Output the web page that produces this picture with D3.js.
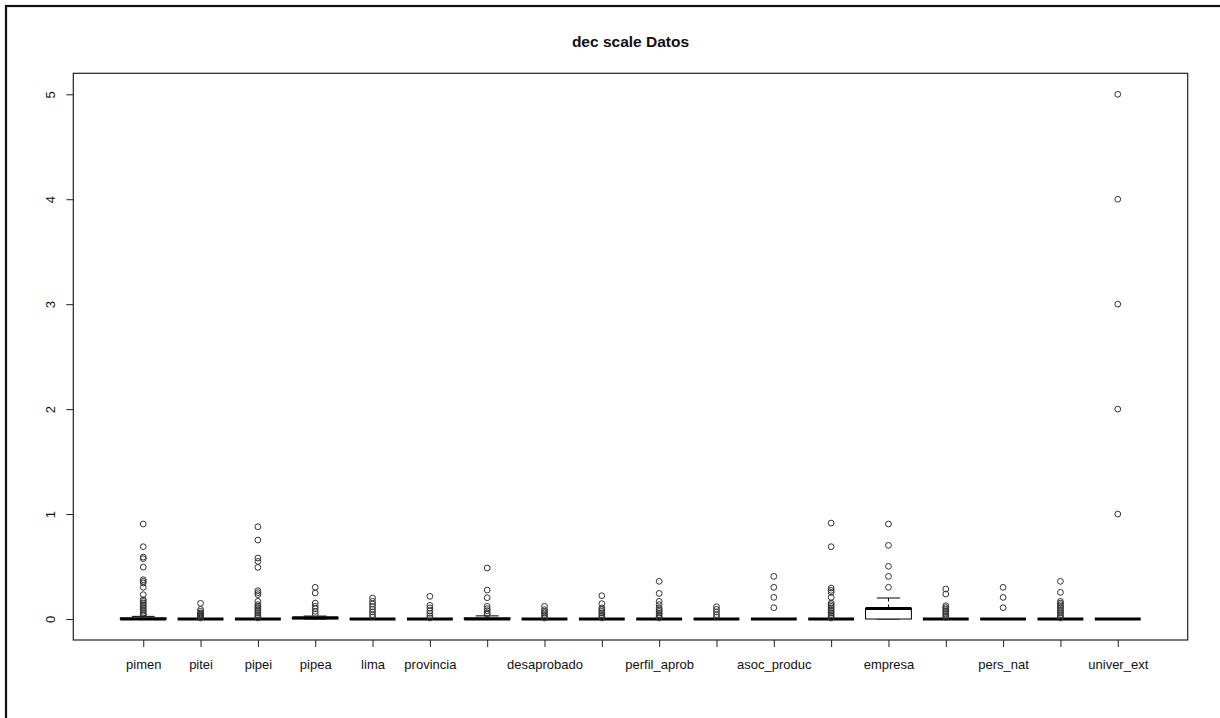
<!DOCTYPE html>
<html>
<head>
<meta charset="utf-8">
<script src="https://cdn.jsdelivr.net/npm/d3@7"></script>
<style>
  body { margin: 0; background: #fff; }
  svg { display: block; font-family: "Liberation Sans", Arial, sans-serif; }
</style>
</head>
<body>
<div id="chart"></div>
<script>
// Variable names (empty where R dropped the label because it would overlap)
const categories = ["pimen", "pitei", "pipei", "pipea", "lima", "provincia", "", "desaprobado", "",
  "perfil_aprob", "", "asoc_produc", "", "empresa", "", "pers_nat", "", "univer_ext"];

// Box statistics, one value per variable
const whiskerLow  = [0, 0, 0, 0,     0, 0, 0,    0, 0, 0, 0, 0, 0, 0,   0, 0, 0, 0];
const lowerQuart  = [0, 0, 0, 0.003, 0, 0, 0,    0, 0, 0, 0, 0, 0, 0,   0, 0, 0, 0];
const medians     = [0, 0, 0, 0.01,  0, 0, 0,    0, 0, 0, 0, 0, 0, 0.1, 0, 0, 0, 0];
const upperQuart  = [0.01, 0, 0, 0.012, 0, 0, 0.01, 0, 0, 0, 0, 0, 0, 0.1, 0, 0, 0, 0];
const whiskerHigh = [0.025, 0, 0, 0.028, 0, 0, 0.03, 0, 0, 0, 0, 0, 0, 0.2, 0, 0, 0, 0];

// Outliers per variable
const outliers = [
  [0.905, 0.689, 0.590, 0.575, 0.495, 0.375, 0.359, 0.343, 0.302, 0.232, 0.184, 0.168, 0.152, 0.137, 0.121, 0.105, 0.089, 0.073, 0.057, 0.041, 0.035],
  [0.149, 0.092, 0.073, 0.057, 0.048, 0.041, 0.033, 0.025, 0.018, 0.01],
  [0.879, 0.752, 0.581, 0.549, 0.492, 0.270, 0.251, 0.232, 0.168, 0.137, 0.121, 0.105, 0.089, 0.073, 0.057, 0.041, 0.025, 0.01],
  [0.302, 0.248, 0.152, 0.121, 0.098, 0.073, 0.048],
  [0.2, 0.168, 0.143, 0.117, 0.092, 0.067, 0.041, 0.02],
  [0.216, 0.130, 0.105, 0.079, 0.054, 0.029, 0.01],
  [0.486, 0.276, 0.203, 0.121, 0.098, 0.079, 0.057, 0.045],
  [0.121, 0.089, 0.073, 0.057, 0.041, 0.025, 0.01],
  [0.222, 0.146, 0.105, 0.089, 0.073, 0.057, 0.041, 0.025, 0.01],
  [0.359, 0.244, 0.168, 0.137, 0.105, 0.089, 0.073, 0.057, 0.041, 0.025, 0.01],
  [0.117, 0.092, 0.067, 0.041, 0.019],
  [0.406, 0.302, 0.206, 0.108],
  [0.914, 0.689, 0.295, 0.273, 0.254, 0.206, 0.152, 0.137, 0.121, 0.105, 0.089, 0.073, 0.057, 0.041, 0.025, 0.01],
  [0.905, 0.702, 0.502, 0.406, 0.302],
  [0.286, 0.238, 0.127, 0.11, 0.095, 0.079, 0.063, 0.048, 0.032, 0.016],
  [0.302, 0.206, 0.108],
  [0.359, 0.254, 0.168, 0.152, 0.137, 0.121, 0.105, 0.089, 0.073, 0.057, 0.041, 0.025, 0.01],
  [5, 4, 3, 2, 1]
];

const yTicks = [0, 1, 2, 3, 4, 5];
const title = "dec scale Datos";

const W = 1220, H = 718;
const plot = { left: 73.3, right: 1187.7, top: 73.3, bottom: 640 };

const svg = d3.select("#chart").append("svg")
  .attr("width", W)
  .attr("height", H);

// outer frame (only left and top edges are visible in the window)
svg.append("rect")
  .attr("x", 6).attr("y", 6)
  .attr("width", 1400).attr("height", 900)
  .attr("fill", "none")
  .attr("stroke", "#111")
  .attr("stroke-width", 2.2);

// R style ranges: 0.5..n+0.5 plus 4% on each side
const n = categories.length;
const xPad = n * 0.04;
const x = d3.scaleLinear()
  .domain([0.5 - xPad, n + 0.5 + xPad])
  .range([plot.left, plot.right]);

const y = d3.scaleLinear()
  .domain([-0.2, 5.2])
  .range([plot.bottom, plot.top]);

const boxW = x(1.4) - x(1);   // half of the 0.8 box width
const capW = boxW / 2;

const data = categories.map((c, i) => ({
  name: c, pos: i + 1,
  lo: whiskerLow[i], q1: lowerQuart[i], med: medians[i], q3: upperQuart[i], hi: whiskerHigh[i],
  out: outliers[i]
}));

const g = svg.append("g");

const box = g.selectAll(".box")
  .data(data)
  .enter().append("g")
  .attr("class", "box");

// whiskers (dashed) and caps
box.append("line")
  .attr("x1", d => x(d.pos)).attr("x2", d => x(d.pos))
  .attr("y1", d => y(d.q3)).attr("y2", d => y(d.hi))
  .attr("stroke", "#000").attr("stroke-dasharray", "4,3");
box.append("line")
  .attr("x1", d => x(d.pos)).attr("x2", d => x(d.pos))
  .attr("y1", d => y(d.q1)).attr("y2", d => y(d.lo))
  .attr("stroke", "#000").attr("stroke-dasharray", "4,3");
box.append("line")
  .attr("x1", d => x(d.pos) - capW).attr("x2", d => x(d.pos) + capW)
  .attr("y1", d => y(d.hi)).attr("y2", d => y(d.hi))
  .attr("stroke", "#000");
box.append("line")
  .attr("x1", d => x(d.pos) - capW).attr("x2", d => x(d.pos) + capW)
  .attr("y1", d => y(d.lo)).attr("y2", d => y(d.lo))
  .attr("stroke", "#000");

// box
box.append("rect")
  .attr("x", d => x(d.pos) - boxW)
  .attr("width", boxW * 2)
  .attr("y", d => y(d.q3))
  .attr("height", d => y(d.q1) - y(d.q3))
  .attr("fill", "#fff")
  .attr("stroke", "#000");

// median
box.append("line")
  .attr("x1", d => x(d.pos) - boxW).attr("x2", d => x(d.pos) + boxW)
  .attr("y1", d => y(d.med)).attr("y2", d => y(d.med))
  .attr("stroke", "#000")
  .attr("stroke-width", 3.2);

// outliers
box.selectAll("circle")
  .data(d => d.out.map(v => ({ pos: d.pos, v })))
  .enter().append("circle")
  .attr("cx", d => x(d.pos))
  .attr("cy", d => y(d.v))
  .attr("r", 2.9)
  .attr("fill", "none")
  .attr("stroke", "#333")
  .attr("stroke-width", 1);

// plot frame
svg.append("rect")
  .attr("x", plot.left).attr("y", plot.top)
  .attr("width", plot.right - plot.left)
  .attr("height", plot.bottom - plot.top)
  .attr("fill", "none")
  .attr("stroke", "#222")
  .attr("stroke-width", 1.2);

// x axis
const xAxis = svg.append("g")
  .attr("transform", `translate(0,${plot.bottom})`)
  .call(d3.axisBottom(x)
    .tickValues(d3.range(1, n + 1))
    .tickSize(7)
    .tickFormat(i => categories[i - 1]));
xAxis.select(".domain").remove();
xAxis.selectAll("line").attr("stroke", "#222");
xAxis.selectAll("text")
  .attr("y", 0).attr("dy", 0)
  .attr("transform", "translate(0,29)")
  .attr("font-size", 13)
  .attr("font-family", "Liberation Sans, Arial, sans-serif")
  .attr("fill", "#111");

// y axis
const yAxis = svg.append("g")
  .attr("transform", `translate(${plot.left},0)`)
  .call(d3.axisLeft(y).tickValues(yTicks).tickSize(7).tickFormat(d3.format("d")));
yAxis.select(".domain").remove();
yAxis.selectAll("line").attr("stroke", "#222");
yAxis.selectAll("text")
  .attr("x", 0).attr("dy", "0.35em")
  .attr("transform", "translate(-23,0) rotate(-90)")
  .attr("text-anchor", "middle")
  .attr("font-size", 13)
  .attr("font-family", "Liberation Sans, Arial, sans-serif")
  .attr("fill", "#111");

// title
svg.append("text")
  .attr("x", (plot.left + plot.right) / 2)
  .attr("y", 47)
  .attr("text-anchor", "middle")
  .attr("font-size", 15.5)
  .attr("font-weight", "bold")
  .attr("fill", "#111")
  .text(title);
</script>
</body>
</html>
